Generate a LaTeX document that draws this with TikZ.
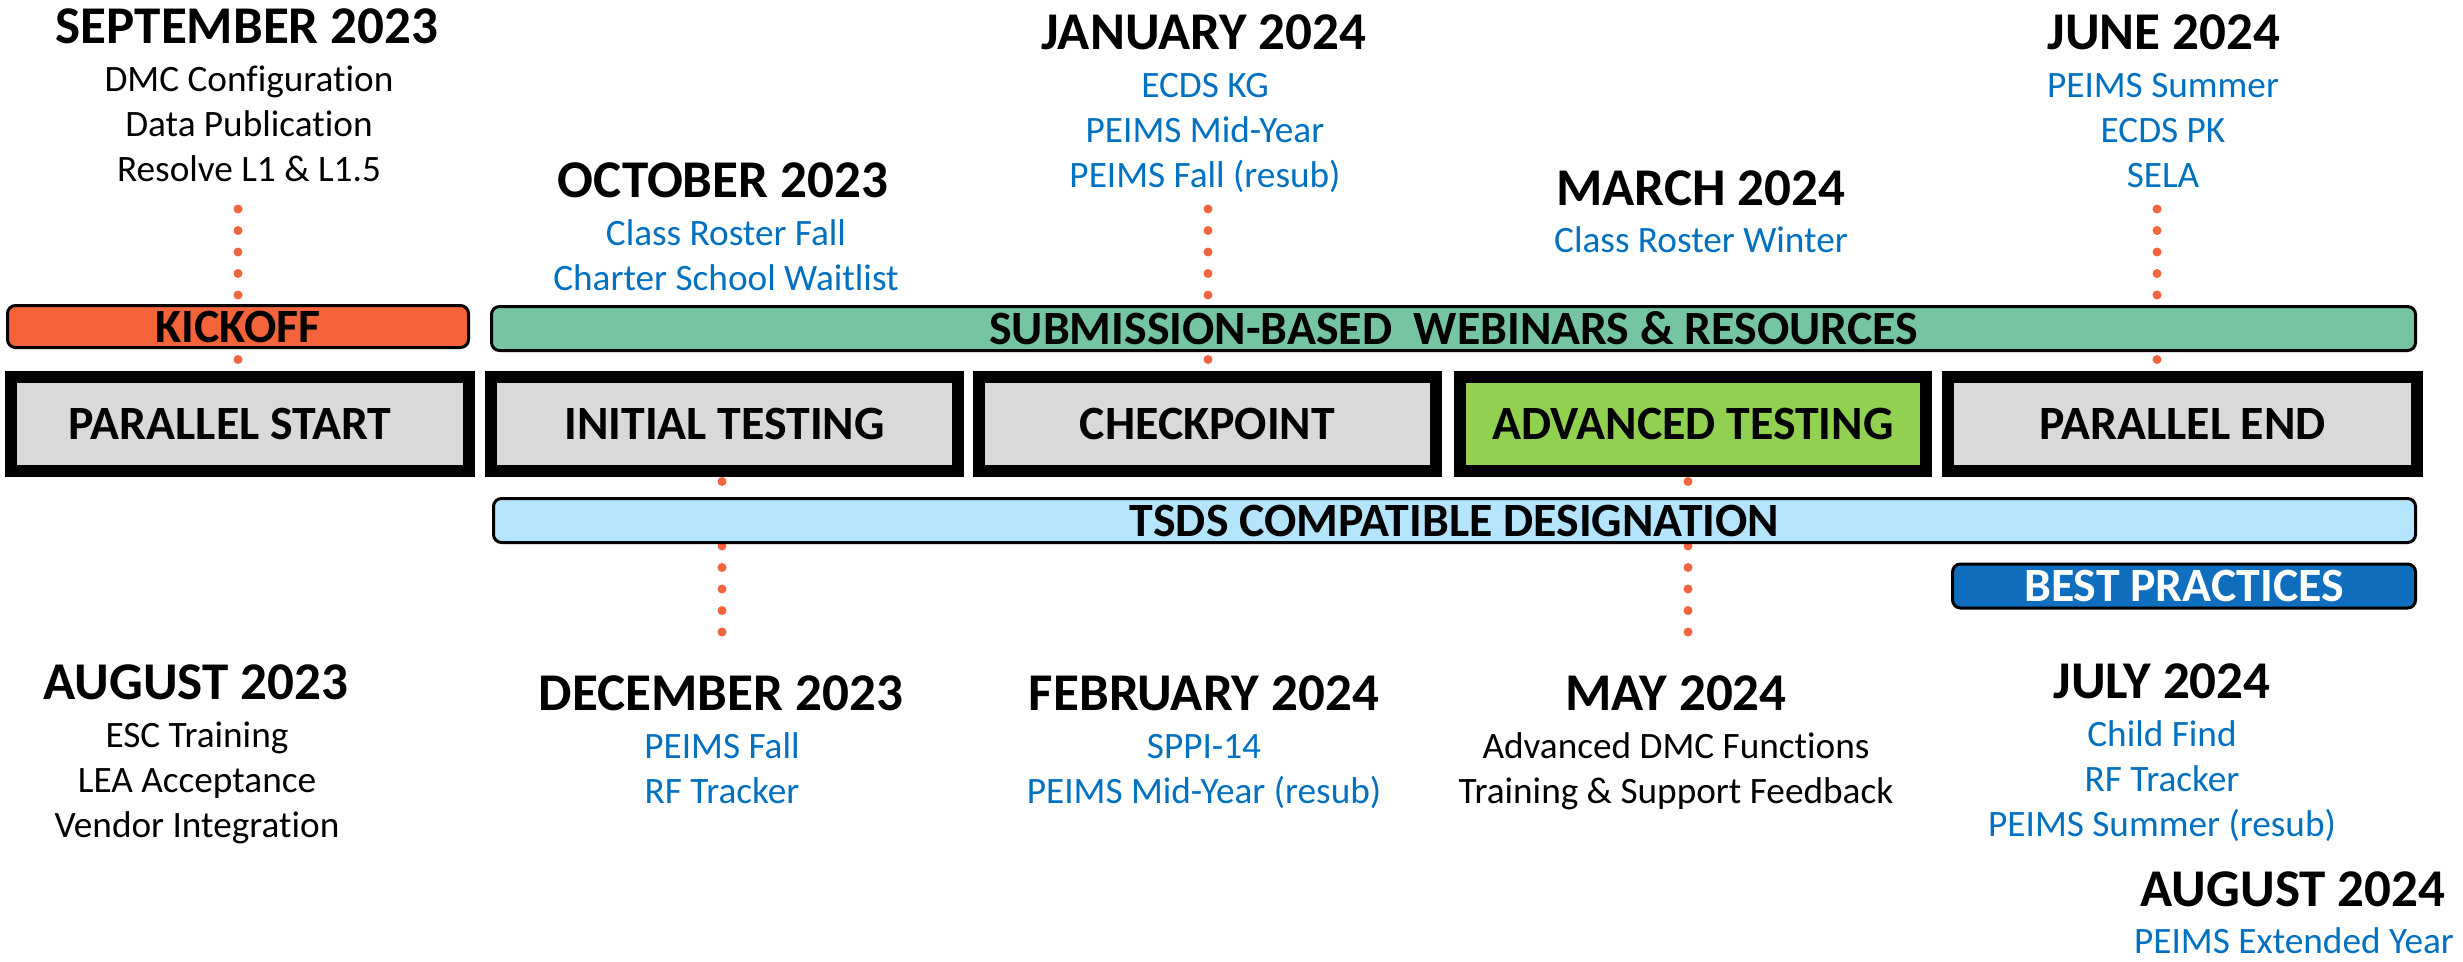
\documentclass[tikz,border=0pt]{standalone}
\usepackage{fontspec}
\setmainfont{Carlito}[Ligatures=NoCommon]
\usetikzlibrary{positioning}
\definecolor{kickorange}{RGB}{244,99,58}
\definecolor{dotorange}{RGB}{241,101,62}
\definecolor{subgreen}{RGB}{117,197,163}
\definecolor{phasegray}{RGB}{217,217,217}
\definecolor{advgreen}{RGB}{146,208,80}
\definecolor{tsdsblue}{RGB}{180,229,252}
\definecolor{bestblue}{RGB}{15,110,190}
\definecolor{itemblue}{RGB}{0,112,192}
\newcommand{\titlefont}{\fontsize{15.1}{18}\selectfont\bfseries}
\newcommand{\itemfont}{\fontsize{10.6}{12.8}\selectfont}
\newcommand{\boxfont}{\fontsize{13.6}{16}\selectfont\bfseries}

\begin{document}
\begin{tikzpicture}
        \tikzset{ phase/.style  ={draw=black, line width=0.12cm, fill=phasegray, minimum height=0.94cm, inner sep=0pt, font=\boxfont} }
        \tikzset{ band/.style   ={draw=black, line width=0.03cm, rounded corners=0.08cm, minimum height=0.44cm, inner sep=0pt, font=\boxfont} }
        \tikzset{ mtitle/.style ={anchor=base, inner sep=0pt, font=\titlefont} }
        \tikzset{ mitems/.style ={anchor=base, inner sep=0pt, align=center, font=\itemfont} }
        \tikzset{ dotline/.style={draw=dotorange, line width=0.09cm, line cap=round, dash pattern=on 0pt off 0.215cm} }

        \useasboundingbox (0,0) rectangle (24.63,-9.61);

        % milestones above the timeline (items anchored at their last line)
        \node[mtitle] (sep)   at (2.47,-0.43) {SEPTEMBER 2023};
        \node[mitems] (sep_i) at (2.49,-1.81) {DMC Configuration\\Data Publication\\Resolve L1 \& L1.5};

        \node[mtitle] (oct)   at (7.23,-1.97) {OCTOBER 2023};
        \node[mitems, text=itemblue] (oct_i) at (7.26,-2.90) {Class Roster Fall\\Charter School Waitlist};

        \node[mtitle] (jan)   at (12.04,-0.49) {JANUARY 2024};
        \node[mitems, text=itemblue] (jan_i) at (12.05,-1.87) {ECDS KG\\PEIMS Mid-Year\\PEIMS Fall (resub)};

        \node[mtitle] (mar)   at (17.01,-2.05) {MARCH 2024};
        \node[mitems, text=itemblue] (mar_i) at (17.01,-2.52) {Class Roster Winter};

        \node[mtitle] (jun)   at (21.64,-0.49) {JUNE 2024};
        \node[mitems, text=itemblue] (jun_i) at (21.63,-1.87) {PEIMS Summer\\ECDS PK\\SELA};

        % milestones below the timeline
        \node[mtitle] (aug)   at (1.96,-6.99) {AUGUST 2023};
        \node[mitems] (aug_i) at (1.97,-8.37) {ESC Training\\LEA Acceptance\\Vendor Integration};

        \node[mtitle] (dec)   at (7.21,-7.10) {DECEMBER 2023};
        \node[mitems, text=itemblue] (dec_i) at (7.22,-8.03) {PEIMS Fall\\RF Tracker};

        \node[mtitle] (feb)   at (12.04,-7.10) {FEBRUARY 2024};
        \node[mitems, text=itemblue] (feb_i) at (12.04,-8.03) {SPPI-14\\PEIMS Mid-Year (resub)};

        \node[mtitle] (may)   at (16.76,-7.10) {MAY 2024};
        \node[mitems] (may_i) at (16.76,-8.03) {Advanced DMC Functions\\Training \& Support Feedback};

        \node[mtitle] (jul)   at (21.62,-6.98) {JULY 2024};
        \node[mitems, text=itemblue] (jul_i) at (21.62,-8.36) {Child Find\\RF Tracker\\PEIMS Summer (resub)};

        \node[mtitle] (aug2)   at (22.93,-9.06) {AUGUST 2024};
        \node[mitems, text=itemblue] (aug2_i) at (22.94,-9.53) {PEIMS Extended Year};

        % phases
        \node[phase, minimum width=4.58cm] (pstart) at (2.40,-4.24)   {PARALLEL START\hspace*{0.2cm}};
        \node[phase, minimum width=4.67cm] (itest)  at (7.245,-4.24)  {INITIAL TESTING};
        \node[phase, minimum width=4.57cm] (chk)    at (12.075,-4.24) {CHECKPOINT};
        \node[phase, minimum width=4.66cm, fill=advgreen] (atest) at (16.93,-4.24) {ADVANCED TESTING};
        \node[phase, minimum width=4.69cm] (pend)   at (21.825,-4.24) {PARALLEL END};

        % dotted leaders
        \coordinate (sep_dot) at (2.38,-2.09);
        \coordinate (jan_dot) at (12.08,-2.09);
        \coordinate (jun_dot) at (21.57,-2.09);
        \coordinate (dec_dot) at (7.22,-6.32);
        \coordinate (may_dot) at (16.88,-6.32);
        \draw[dotline] (sep_dot) -- (sep_dot |- pstart.north);
        \draw[dotline] (jan_dot) -- (jan_dot |- chk.north);
        \draw[dotline] (jun_dot) -- (jun_dot |- pend.north);
        \draw[dotline] (dec_dot) -- (dec_dot |- itest.south);
        \draw[dotline] (may_dot) -- (may_dot |- atest.south);

        % bands
        \node[band, fill=kickorange, minimum width=4.61cm, minimum height=0.42cm] (kick) at (2.38,-3.265) {KICKOFF};
        \node[band, fill=subgreen, minimum width=19.24cm] (webinar) at (14.535,-3.285) {SUBMISSION-BASED\ \ WEBINARS \& RESOURCES};
        \node[band, fill=tsdsblue, minimum width=19.22cm] (tsds) at (14.545,-5.205) {TSDS COMPATIBLE DESIGNATION};
        \node[band, fill=bestblue, text=white, minimum width=4.63cm] (best) at (21.84,-5.86) {BEST PRACTICES};
\end{tikzpicture}
\end{document}
